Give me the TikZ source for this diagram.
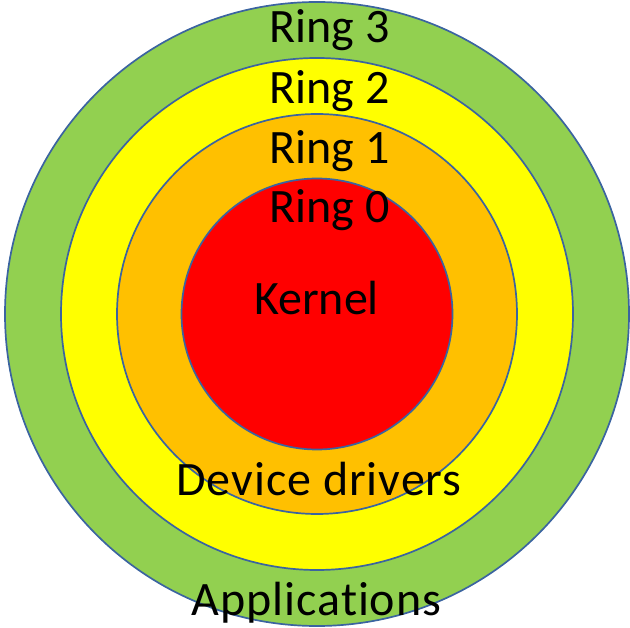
\documentclass[tikz,border=0pt]{standalone}
\usepackage{fontspec}
\setmainfont[Ligatures=NoCommon]{Carlito}
\definecolor{ringgreen}{HTML}{92D050}
\definecolor{ringyellow}{HTML}{FFFF00}
\definecolor{ringorange}{HTML}{FFC000}
\definecolor{ringred}{HTML}{FF0000}
\definecolor{ringedge}{HTML}{3B64A0}
\begin{document}
\begin{tikzpicture}[x=1pt,y=-1pt,
  ring/.style={draw=ringedge,line width=1.7pt},
  lbl/.style={anchor=base,inner sep=0pt,font=\fontsize{48}{58}\selectfont},
  widelbl/.style={lbl,font=\fontsize{48}{58}\selectfont\addfontfeatures{LetterSpace=2}}]
\useasboundingbox (0,0) rectangle (630,628);
\coordinate (c) at (317,314);
% concentric privilege rings, outermost first
\filldraw[ring,fill=ringgreen]  (c) circle[radius=312];
\filldraw[ring,fill=ringyellow] (c) circle[radius=256];
\filldraw[ring,fill=ringorange] (c) circle[radius=200];
\filldraw[ring,fill=ringred]    (c) circle[radius=135.5];
% labels
\node[lbl] (r3)   at (329.5,43)  {Ring 3};
\node[lbl] (r2)   at (329.5,104) {Ring 2};
\node[lbl] (r1)   at (329.5,164) {Ring 1};
\node[lbl] (r0)   at (329.5,223) {Ring 0};
\node[lbl] (kern) at (316.5,315) {Kernel};
\node[widelbl] (drv)  at (319,496)   {Device drivers};
\node[widelbl] (apps) at (316.5,615) {Applications};
\end{tikzpicture}
\end{document}
